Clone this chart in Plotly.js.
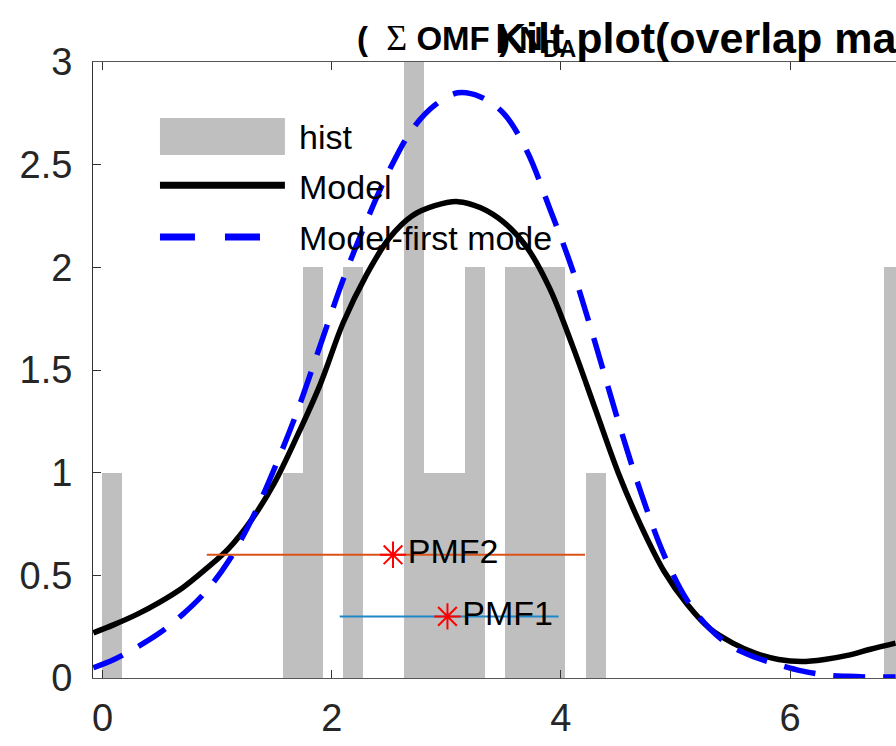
<!DOCTYPE html>
<html>
<head>
<meta charset="utf-8">
<script src="https://cdn.plot.ly/plotly-3.0.1.min.js"></script>
<style>html,body{margin:0;padding:0;background:#fff;overflow:hidden;}#chart{width:896px;height:746px;}</style>
</head>
<body>
<div id="chart"></div>
<script>
// Histogram (bin centres and counts)
var histX = [0.08, 1.661, 1.837, 2.189, 2.718, 2.894, 3.071, 3.247, 3.599, 3.776, 3.952, 4.305, 6.91];
var histY = [1, 1, 2, 2, 3, 1, 1, 2, 2, 2, 2, 1, 2];
var binWidth = 0.176;

// Model curve
var curveX = [-0.08, 0.1, 0.3, 0.5, 0.7, 0.9, 1.1, 1.3, 1.5, 1.7, 1.9, 2.1, 2.3, 2.5, 2.7, 2.9, 3.1, 3.3, 3.5, 3.7, 3.9, 4.1, 4.3, 4.5, 4.7, 4.9, 5.1, 5.3, 5.5, 5.7, 5.9, 6.1, 6.3, 6.5, 6.7, 6.92];
var modelY = [0.22, 0.26, 0.31, 0.37, 0.44, 0.53, 0.63, 0.77, 0.95, 1.18, 1.43, 1.73, 1.96, 2.14, 2.25, 2.30, 2.32, 2.29, 2.22, 2.10, 1.90, 1.62, 1.31, 1.00, 0.74, 0.52, 0.36, 0.24, 0.17, 0.12, 0.09, 0.08, 0.09, 0.11, 0.14, 0.17];
// Model - first mode
var firstModeY = [0.05, 0.09, 0.15, 0.22, 0.31, 0.42, 0.57, 0.77, 1.02, 1.30, 1.62, 1.94, 2.22, 2.47, 2.67, 2.79, 2.85, 2.83, 2.75, 2.57, 2.29, 1.99, 1.63, 1.25, 0.90, 0.60, 0.38, 0.24, 0.15, 0.10, 0.065, 0.035, 0.015, 0.008, 0.005, 0.005];

// PMF markers and ranges
var pmfNames = ["PMF2", "PMF1"];
var pmfCenter = [2.535, 3.01];
var pmfLow = [0.91, 2.07];
var pmfHigh = [4.21, 3.98];
var pmfLevel = [0.6, 0.3];
var pmfColors = ["#D95319", "#1E88C8"];

var xTicks = [0, 2, 4, 6];
var yTicks = [0, 0.5, 1, 1.5, 2, 2.5, 3];

var traces = [];
traces.push({
  type: "bar", x: histX, y: histY, width: binWidth,
  marker: {color: "rgb(191,191,191)", line: {width: 0}},
  name: "hist", showlegend: false, hoverinfo: "skip"
});
traces.push({
  type: "scatter", mode: "lines", x: curveX, y: modelY, name: "Model",
  line: {color: "#000000", width: 5.5, shape: "spline"}, showlegend: false
});
traces.push({
  type: "scatter", mode: "lines", x: curveX, y: firstModeY, name: "Model-first mode",
  line: {color: "#0000FF", width: 5.5, dash: "32px,18px", shape: "spline"}, showlegend: false
});
for (var i = 0; i < pmfNames.length; i++) {
  traces.push({
    type: "scatter", mode: "lines", x: [pmfLow[i], pmfHigh[i]], y: [pmfLevel[i], pmfLevel[i]],
    line: {color: pmfColors[i], width: 2}, showlegend: false, hoverinfo: "skip"
  });
  traces.push({
    type: "scatter", mode: "markers+text", x: [pmfCenter[i]], y: [pmfLevel[i]],
    text: [pmfNames[i]], textposition: "middle right",
    textfont: {family: "Liberation Sans, Arial, sans-serif", size: 34, color: "#000"},
    marker: {symbol: "asterisk-open", size: 22, color: "#FF0000", line: {color: "#FF0000", width: 2}},
    showlegend: false
  });
}

var fontFam = "Liberation Sans, Arial, sans-serif";
var layout = {
  width: 896, height: 746,
  margin: {l: 93, r: 0, t: 62, b: 68},
  paper_bgcolor: "#ffffff", plot_bgcolor: "#ffffff",
  showlegend: false,
  bargap: 0,
  title: {
    text: "<b>Kilt plot(overlap mass)</b>",
    font: {family: fontFam, size: 43, color: "#000"},
    xref: "container", x: 495 / 896, xanchor: "left",
    yref: "container", y: 1 - 38 / 746, yanchor: "middle"
  },
  xaxis: {
    range: [-0.083, 6.924], tickvals: xTicks, ticktext: xTicks.map(String),
    ticks: "inside", ticklen: 8, tickcolor: "#333", tickwidth: 1,
    showline: true, linecolor: "#555", linewidth: 1, mirror: "ticks",
    showgrid: false, zeroline: false,
    tickfont: {family: fontFam, size: 38, color: "#262626"},
    ticklabelstandoff: 6
  },
  yaxis: {
    range: [0, 3], tickvals: yTicks, ticktext: yTicks.map(String),
    ticks: "inside", ticklen: 8, tickcolor: "#333", tickwidth: 1,
    showline: true, linecolor: "#333", linewidth: 1,
    showgrid: false, zeroline: false,
    tickfont: {family: fontFam, size: 38, color: "#262626"},
    ticklabelstandoff: 12
  },
  shapes: [
    {type: "rect", xref: "paper", yref: "paper", x0: 0.0834, x1: 0.239, y0: 0.849, y1: 0.909,
     fillcolor: "rgb(191,191,191)", line: {width: 0}},
    {type: "line", xref: "paper", yref: "paper", x0: 0.0834, x1: 0.239, y0: 0.800, y1: 0.800,
     line: {color: "#000", width: 7}},
    {type: "line", xref: "paper", yref: "paper", x0: 0.0834, x1: 0.239, y0: 0.716, y1: 0.716,
     line: {color: "#0000FF", width: 7, dash: "35px,30px"}}
  ],
  annotations: [
    {text: "hist", xref: "paper", yref: "paper", x: 0.254, y: 0.878, xanchor: "left", yanchor: "middle",
     showarrow: false, font: {family: fontFam, size: 34, color: "#000"}},
    {text: "Model", xref: "paper", yref: "paper", x: 0.254, y: 0.797, xanchor: "left", yanchor: "middle",
     showarrow: false, font: {family: fontFam, size: 34, color: "#000"}},
    {text: "Model-first mode", xref: "paper", yref: "paper", x: 0.254, y: 0.714, xanchor: "left", yanchor: "middle",
     showarrow: false, font: {family: fontFam, size: 34, color: "#000"}},
    {text: "<b>(  <span style=\"font-family:'Liberation Serif',serif;font-weight:normal;font-size:36px\">Σ</span> OMF ) N<sub>DA</sub></b>",
     xref: "paper", yref: "paper", x: 0.326, y: 1.036,
     xanchor: "left", yanchor: "middle", showarrow: false,
     font: {family: fontFam, size: 33, color: "#000"}}
  ]
};

Plotly.newPlot("chart", traces, layout, {displayModeBar: false, staticPlot: true});
</script>
</body>
</html>
